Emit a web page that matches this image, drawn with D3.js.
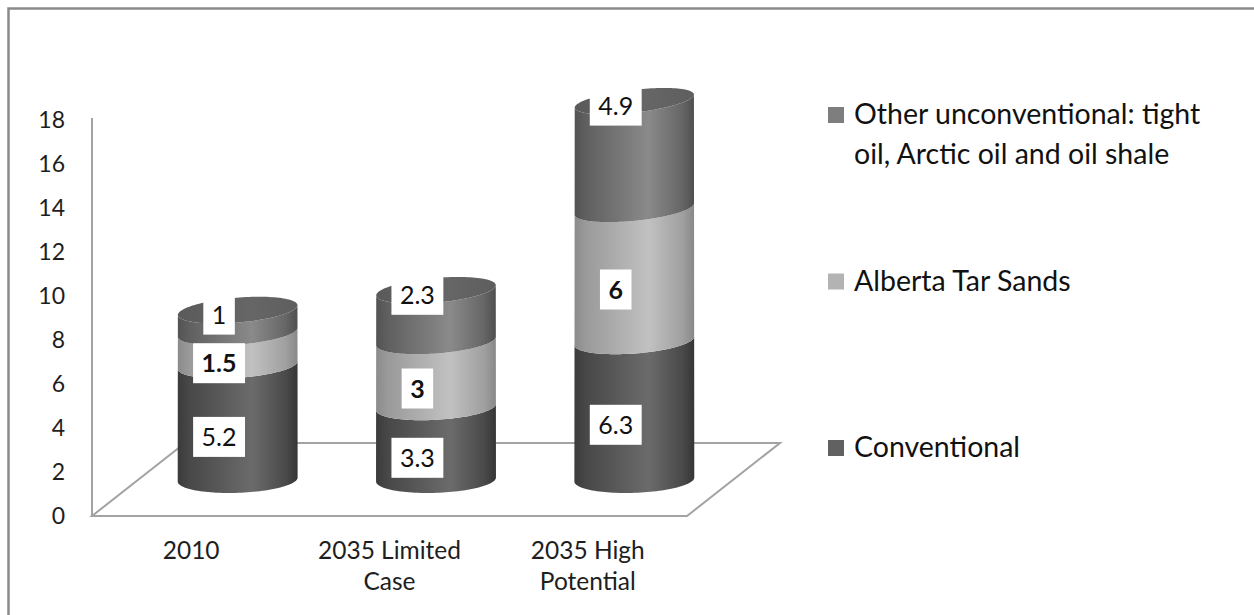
<!DOCTYPE html>
<html>
<head>
<meta charset="utf-8">
<script src="https://cdn.jsdelivr.net/npm/d3@7"></script>
<style>
  body { margin: 0; background: #fff; }
  svg { display: block; }
  text { font-family: Lato, "Open Sans", "Noto Sans", sans-serif; }
</style>
</head>
<body>
<svg id="chart" width="1254" height="615"></svg>
<script>
// Oil production by source (million barrels per day)
const categories = ["2010", "2035 Limited Case", "2035 High Potential"];
const categoryLines = [["2010"], ["2035 Limited", "Case"], ["2035 High", "Potential"]];
const conventional = [5.2, 3.3, 6.3];
const tarSands = [1.5, 3, 6];
const otherUnconventional = [1, 2.3, 4.9];
const yTicks = [0, 2, 4, 6, 8, 10, 12, 14, 16, 18];
const legendLabels = [
  ["Other unconventional: tight", "oil, Arctic oil and oil shale"],
  ["Alberta Tar Sands"],
  ["Conventional"]
];

const series = [
  { key: "conv", values: conventional, bold: false,
    stops: [[0, "#3b3b3b"], [0.1, "#484848"], [0.62, "#6b6b6b"], [0.9, "#4a4a4a"], [1, "#353535"]],
    swatch: "#616161" },
  { key: "tar", values: tarSands, bold: true,
    stops: [[0, "#8b8b8b"], [0.1, "#9a9a9a"], [0.62, "#c1c1c1"], [0.9, "#a0a0a0"], [1, "#888888"]],
    swatch: "#b3b3b3" },
  { key: "other", values: otherUnconventional, bold: false,
    stops: [[0, "#535353"], [0.1, "#606060"], [0.62, "#8a8a8a"], [0.9, "#666666"], [1, "#4f4f4f"]],
    swatch: "#7e7e7e" }
];

const svg = d3.select("#chart");

// outer frame
svg.append("rect")
  .attr("x", 8.5).attr("y", 8.5).attr("width", 1280).attr("height", 640)
  .attr("fill", "none").attr("stroke", "#8a8a8a").attr("stroke-width", 2.5);

// scales: front plane of the floor, plus a depth offset for the 3D look
const x = d3.scaleBand().domain(categories).range([92, 687]);
const y = d3.scaleLinear().domain([0, 18]).range([516, 120]);
const depth = { dx: 93, dy: -73 };           // full floor depth
const cylDepth = 0.5, labelDepth = 0.3;      // cylinder axis / label plane
const rx = 60;
const ryScale = d3.scaleLinear().domain([480, 100]).range([13.3, 11.3]);
const tiltScale = d3.scaleLinear().domain([480, 300, 100]).range([-2, -5, -6.5]);

const defs = svg.append("defs");
series.forEach(s => {
  const g = defs.append("linearGradient").attr("id", "grad-" + s.key)
    .attr("x1", 0).attr("x2", 1).attr("y1", 0).attr("y2", 0);
  s.stops.forEach(([o, c]) => g.append("stop").attr("offset", o).attr("stop-color", c));
});
const topGrad = defs.append("linearGradient").attr("id", "grad-top")
  .attr("x1", 0).attr("x2", 1).attr("y1", 0).attr("y2", 0);
[[0, "#5a5a5a"], [0.6, "#666666"], [1, "#5e5e5e"]].forEach(([o, c]) =>
  topGrad.append("stop").attr("offset", o).attr("stop-color", c));

// y axis tick labels
const tickG = svg.append("g");
tickG.selectAll("text").data(yTicks).join("text")
  .attr("x", 65).attr("y", d => y(d)).attr("dy", "0.36em")
  .attr("text-anchor", "end").attr("font-size", 23).attr("fill", "#1e1e1e")
  .text(d => d);

// axis line and floor outline
svg.append("line")
  .attr("x1", 92).attr("x2", 92).attr("y1", y(0)).attr("y2", y(18) - 2)
  .attr("stroke", "#a3a3a3").attr("stroke-width", 2);
const x0 = x.range()[0], x1 = x.range()[1];
const floor = [
  [x0, y(0)], [x1, y(0)],
  [x1 + depth.dx, y(0) + depth.dy], [x0 + depth.dx, y(0) + depth.dy]
];
svg.append("path")
  .attr("d", d3.line()(floor) + "Z")
  .attr("fill", "none").attr("stroke", "#a3a3a3").attr("stroke-width", 2);

// ellipse point on a cylinder cross-section
function ellPt(cx, cy, t) {
  const ry = ryScale(cy), th = tiltScale(cy) * Math.PI / 180;
  return [
    cx + rx * Math.cos(t) * Math.cos(th) - ry * Math.sin(t) * Math.sin(th),
    cy + rx * Math.cos(t) * Math.sin(th) + ry * Math.sin(t) * Math.cos(th)
  ];
}
const N = 60;
function bodyPath(cx, yb, yt) {
  const pts = [];
  for (let i = 0; i <= N; i++) pts.push(ellPt(cx, yb, Math.PI - Math.PI * i / N));
  for (let i = 0; i <= N; i++) pts.push(ellPt(cx, yt, Math.PI * i / N));
  return d3.line()(pts) + "Z";
}
function ellipsePath(cx, cy) {
  const pts = [];
  for (let i = 0; i < 2 * N; i++) pts.push(ellPt(cx, cy, Math.PI * i / N));
  return d3.line()(pts) + "Z";
}

// stacked cylinders
const stack = categories.map((c, i) => {
  let acc = 0;
  return series.map(s => {
    const v0 = acc; acc += s.values[i];
    return { cat: c, s, v0, v1: acc, value: s.values[i] };
  });
});

const cylG = svg.append("g");
stack.forEach(segs => {
  const cx = x(segs[0].cat) + x.bandwidth() / 2 + depth.dx * cylDepth;
  const yOff = depth.dy * cylDepth;
  segs.forEach(seg => {
    cylG.append("path")
      .attr("d", bodyPath(cx, y(seg.v0) + yOff, y(seg.v1) + yOff))
      .attr("fill", `url(#grad-${seg.s.key})`);
  });
  const top = segs[segs.length - 1];
  cylG.append("path")
    .attr("d", ellipsePath(cx, y(top.v1) + yOff))
    .attr("fill", "url(#grad-top)");
});

// data labels in white boxes
const labG = svg.append("g");
stack.forEach(segs => {
  const lx = x(segs[0].cat) + x.bandwidth() / 2 + depth.dx * labelDepth;
  segs.forEach((seg, k) => {
    const isTop = k === segs.length - 1;
    const ly = isTop ? y(seg.v1) - 32 : y((seg.v0 + seg.v1) / 2) + depth.dy * labelDepth;
    const g = labG.append("g");
    const rect = g.append("rect").attr("fill", "#fff");
    const t = g.append("text")
      .attr("x", lx).attr("y", ly).attr("dy", "0.36em")
      .attr("text-anchor", "middle").attr("font-size", 25)
      .attr("font-weight", seg.s.bold ? 700 : 400).attr("fill", "#111")
      .text(seg.value);
    const w = t.node().getComputedTextLength() + 17;
    rect.attr("x", lx - w / 2).attr("y", ly - 20).attr("width", w).attr("height", 40);
  });
});

// category labels
const catG = svg.append("g");
categories.forEach((c, i) => {
  const t = catG.append("text")
    .attr("x", x(c) + x.bandwidth() / 2).attr("y", 559)
    .attr("text-anchor", "middle").attr("font-size", 24.5).attr("fill", "#1e1e1e");
  categoryLines[i].forEach((line, j) =>
    t.append("tspan").attr("x", x(c) + x.bandwidth() / 2).attr("dy", j ? 31 : 0).text(line));
});

// legend (top series listed first)
const legendOrder = [2, 1, 0];
const legY = d3.scaleLinear().domain([0, 2]).range([124, 457]);
const legG = svg.append("g");
legendOrder.forEach((si, i) => {
  const by = legY(i);
  legG.append("rect")
    .attr("x", 828).attr("y", by - 17).attr("width", 16).attr("height", 16)
    .attr("fill", series[si].swatch);
  const t = legG.append("text").attr("x", 854).attr("y", by)
    .attr("font-size", 28.5).attr("fill", "#111");
  legendLabels[i].forEach((line, j) =>
    t.append("tspan").attr("x", 854).attr("dy", j ? 40 : 0).text(line));
});
</script>
</body>
</html>
